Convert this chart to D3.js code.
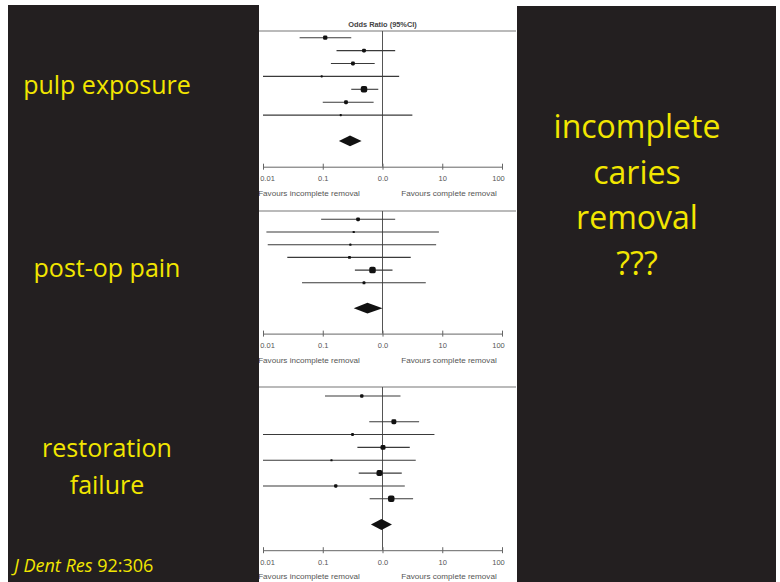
<!DOCTYPE html>
<html>
<head>
<meta charset="utf-8">
<script src="https://cdn.jsdelivr.net/npm/d3@7"></script>
<style>
	html, body { margin: 0; padding: 0; background: #fff; }
	svg { display: block; }
</style>
</head>
<body>
<svg id="chart" width="780" height="582"></svg>
<script>
// outcome names (slide labels)
var outcomeLabels = [["pulp exposure"], ["post-op pain"], ["restoration", "failure"]];
var sideTitle = ["incomplete", "caries", "removal", "???"];
var citeItalic = "J Dent Res", citeRest = " 92:306";

// axis
var tickValues = [0.01, 0.1, 1, 10, 100];
var tickLabels = ["0.01", "0.1", "0.0", "10", "100"];
var axisTitle = "Odds Ratio (95%CI)";
var favourLeft = "Favours incomplete removal", favourRight = "Favours complete removal";

// pulp exposure studies
var pulpRow = [0, 1, 2, 3, 4, 5, 6];
var pulpOR = [0.11, 0.49, 0.32, 0.096, 0.49, 0.245, 0.20];
var pulpLo = [0.041, 0.17, 0.137, 0.01, 0.30, 0.10, 0.01];
var pulpHi = [0.30, 1.63, 0.74, 1.9, 0.85, 0.71, 3.16];
var pulpWt = [16, 13, 13, 4, 37, 13, 4];
var pulpPooled = [0.186, 0.286, 0.447];

// post-op pain studies
var painRow = [0, 1, 2, 3, 4, 5];
var painOR = [0.39, 0.33, 0.29, 0.28, 0.68, 0.49];
var painLo = [0.094, 0.0114, 0.012, 0.0255, 0.345, 0.045];
var painHi = [1.63, 8.8, 7.9, 2.97, 1.47, 5.3];
var painWt = [17, 6, 6, 10, 51, 10];
var painPooled = [0.33, 0.56, 1.0];

// restoration failure studies (row 1 empty)
var restRow = [0, 2, 3, 4, 5, 6, 7, 8];
var restOR = [0.45, 1.55, 0.315, 1.02, 0.14, 0.89, 0.165, 1.4];
var restLo = [0.109, 0.6, 0.01, 0.38, 0.01, 0.4, 0.01, 0.61];
var restHi = [2.0, 4.1, 7.4, 2.86, 3.6, 2.1, 2.36, 3.25];
var restWt = [7, 15, 5, 15, 3, 22, 7, 26];
var restPooled = [0.64, 0.96, 1.44];

var yellow = "#f2e600", dark = "#231f20";
var plotFont = "Liberation Sans, Arial, sans-serif";

var svg = d3.select("#chart");

var x = d3.scaleLog().domain([0.01, 100]).range([263, 502]);

var panels = [
	{rows: pulpRow, or: pulpOR, lo: pulpLo, hi: pulpHi, wt: pulpWt, pooled: pulpPooled, top: 31, row0: 37.7, step: 12.9, slots: 7},
	{rows: painRow, or: painOR, lo: painLo, hi: painHi, wt: painWt, pooled: painPooled, top: 211, row0: 219.3, step: 12.7, slots: 6},
	{rows: restRow, or: restOR, lo: restLo, hi: restHi, wt: restWt, pooled: restPooled, top: 387, row0: 396, step: 12.85, slots: 9}
];

function drawPanel(p, index) {
	var g = svg.append("g").attr("class", "forest"),
		y = d3.scaleLinear().domain([0, 1]).range([p.row0, p.row0 + p.step]),
		size = d3.scaleSqrt().domain([0, d3.max(p.wt)]).range([0, 6.5]),
		axisY = y(p.slots + 3),
		studies = p.rows.map(function (r, i) {
			return {row: r, or: p.or[i], lo: p.lo[i], hi: p.hi[i], wt: p.wt[i]};
		});

	if (index === 0) {
		g.append("text").attr("x", x(1)).attr("y", p.top - 4)
			.attr("text-anchor", "middle").attr("font-family", plotFont)
			.attr("font-size", 7.4).attr("font-weight", "bold").attr("fill", "#444")
			.text(axisTitle);
	}

	g.append("line").attr("x1", 258).attr("x2", 516).attr("y1", p.top).attr("y2", p.top)
		.attr("stroke", "#777").attr("stroke-width", 1.2);

	// line of no effect
	g.append("line").attr("x1", x(1)).attr("x2", x(1)).attr("y1", p.top).attr("y2", axisY)
		.attr("stroke", "#555").attr("stroke-width", 1);

	g.selectAll("line.ci").data(studies).enter().append("line")
		.attr("class", "ci")
		.attr("x1", function (d) { return x(Math.max(d.lo, 0.01)); })
		.attr("x2", function (d) { return x(Math.min(d.hi, 100)); })
		.attr("y1", function (d) { return y(d.row); })
		.attr("y2", function (d) { return y(d.row); })
		.attr("stroke", "#3a3a3a").attr("stroke-width", 1.1);

	g.selectAll("rect.study").data(studies).enter().append("rect")
		.attr("class", "study")
		.attr("x", function (d) { return x(d.or) - size(d.wt) / 2; })
		.attr("y", function (d) { return y(d.row) - size(d.wt) / 2; })
		.attr("width", function (d) { return size(d.wt); })
		.attr("height", function (d) { return size(d.wt); })
		.attr("rx", function (d) { return size(d.wt) * 0.3; })
		.attr("fill", "#111");

	// pooled estimate
	var dy = y(p.slots + 1);
	g.append("path")
		.attr("d", "M" + x(p.pooled[0]) + "," + dy +
			"L" + x(p.pooled[1]) + "," + (dy - 5.4) +
			"L" + x(p.pooled[2]) + "," + dy +
			"L" + x(p.pooled[1]) + "," + (dy + 5.4) + "Z")
		.attr("fill", "#111");

	var axis = g.append("g").attr("transform", "translate(0," + axisY + ")")
		.call(d3.axisBottom(x).tickValues(tickValues)
			.tickFormat(function (d, i) { return tickLabels[i]; })
			.tickSizeOuter(0).tickSizeInner(3).tickPadding(6));
	axis.select(".domain").attr("stroke", "#666");
	axis.selectAll(".tick line").attr("y1", -3).attr("stroke", "#666");
	axis.selectAll(".tick text")
		.attr("font-family", plotFont)
		.attr("font-size", 7.5).attr("fill", "#555")
		.attr("dx", function (d, i) { return i === 0 ? 4 : (i === tickValues.length - 1 ? -4 : 0); });

	g.append("text").attr("x", 309).attr("y", axisY + 29).attr("text-anchor", "middle")
		.attr("font-family", plotFont).attr("font-size", 8.1)
		.attr("fill", "#555").text(favourLeft);
	g.append("text").attr("x", 449).attr("y", axisY + 29).attr("text-anchor", "middle")
		.attr("font-family", plotFont).attr("font-size", 8.1)
		.attr("fill", "#555").text(favourRight);
}

panels.forEach(drawPanel);

// dark side panels, drawn over the plot edges
svg.append("rect").attr("x", 8).attr("y", 5).attr("width", 251).attr("height", 577).attr("fill", dark);
svg.append("rect").attr("x", 517).attr("y", 6).attr("width", 259).attr("height", 576).attr("fill", dark);

// left labels
var labelY = [[94], [277], [457, 494]];
outcomeLabels.forEach(function (lines, i) {
	lines.forEach(function (t, j) {
		svg.append("text").attr("x", 107).attr("y", labelY[i][j])
			.attr("text-anchor", "middle").attr("font-family", "Open Sans, sans-serif")
			.attr("font-size", 25).attr("fill", yellow).text(t);
	});
});

var cite = svg.append("text").attr("x", 14).attr("y", 572)
	.attr("font-family", "Open Sans, sans-serif").attr("font-size", 18).attr("fill", yellow);
cite.append("tspan").attr("font-style", "italic").text(citeItalic);
cite.append("tspan").text(citeRest);

// right title
sideTitle.forEach(function (t, i) {
	svg.append("text").attr("x", 637).attr("y", 138 + i * 45.5)
		.attr("text-anchor", "middle").attr("font-family", "Open Sans, sans-serif")
		.attr("font-size", 32).attr("fill", yellow).text(t);
});
</script>
</body>
</html>
